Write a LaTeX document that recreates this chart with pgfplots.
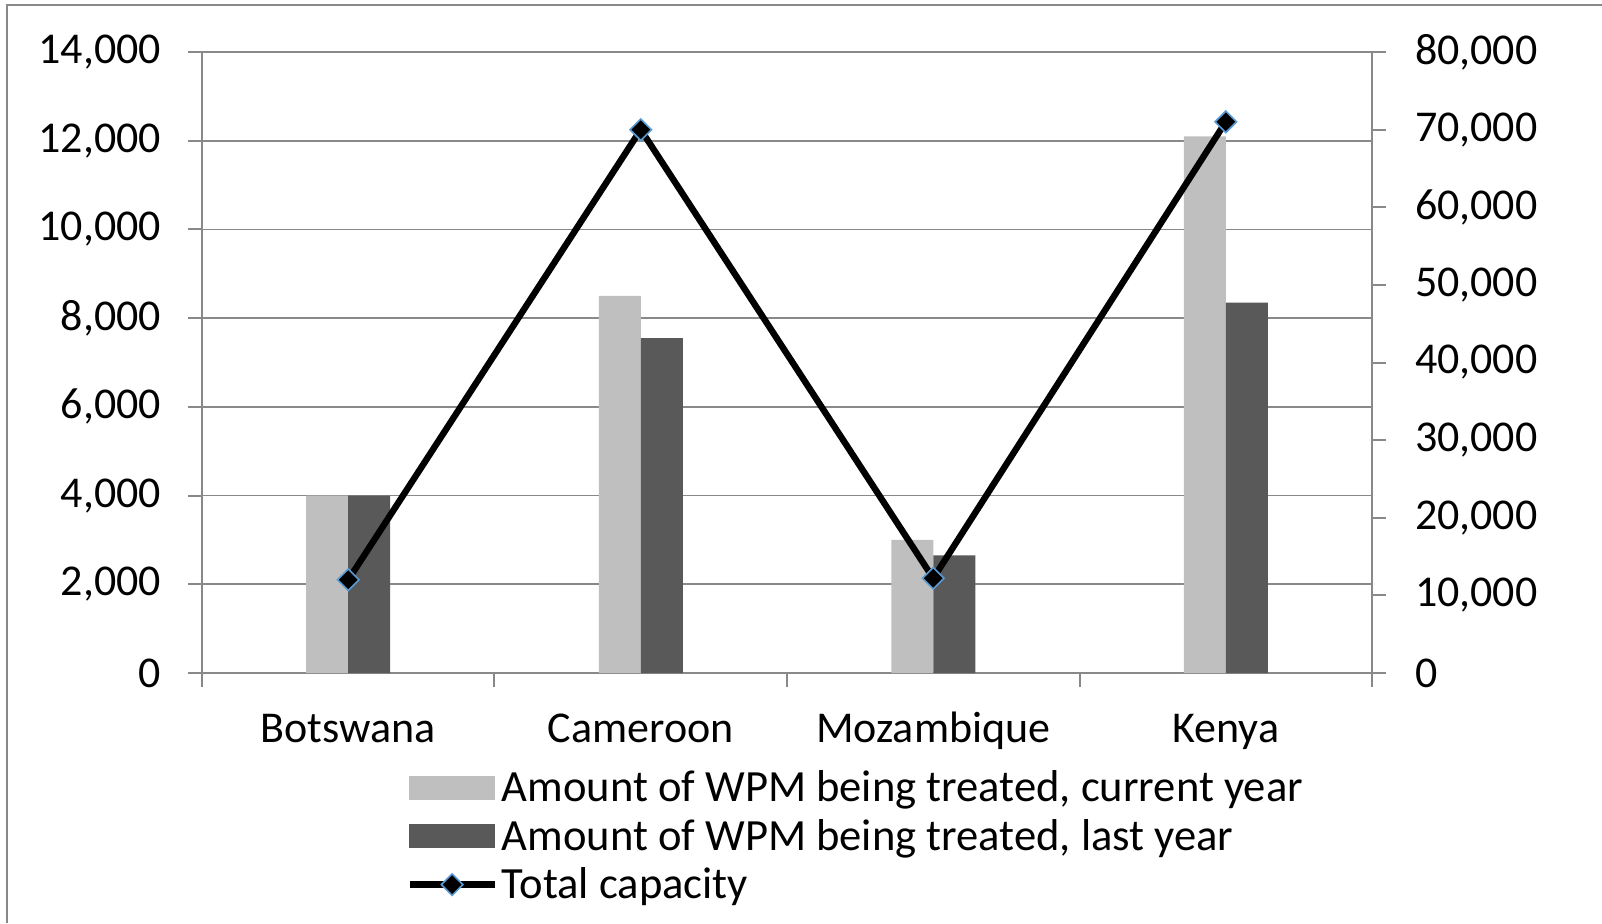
\documentclass[border=0pt]{standalone}
\usepackage{pgfplots}
\pgfplotsset{compat=1.18}
\usepackage{fontspec}
\setmainfont{Carlito}
\definecolor{lightbar}{HTML}{BFBFBF}
\definecolor{darkbar}{HTML}{595959}
\definecolor{axgray}{HTML}{898989}
\definecolor{mkblue}{HTML}{5B9BD5}
\pgfplotsset{
 common/.style={
  at={(0pt,0pt)}, anchor=south west,
  scale only axis, width=585pt, height=310.5pt,
  xmin=-0.5, xmax=3.5,
  ymin=0, clip=false,
  scaled ticks=false,
  tick align=outside,
  major tick length=7pt, minor tick length=7pt,
  every tick/.style={axgray, line width=1pt},
  axis line style={axgray, line width=1pt},
  tick label style={font=\fontsize{22}{26}\selectfont, text=black},
  /pgf/number format/fixed,
  /pgf/number format/1000 sep={,},
  /pgf/number format/assume math mode=true,
 },
 linelegend/.style={legend image code/.code={\draw[mark repeat=2,mark phase=2,##1] plot coordinates {(0pt,0pt) (21.25pt,0pt) (42.5pt,0pt)};}},
 lightlegend/.style={legend image code/.code={\fill[lightbar] (0pt,-5.75pt) rectangle (42.5pt,5.75pt);}},
 darklegend/.style={legend image code/.code={\fill[darkbar] (0pt,-5.75pt) rectangle (42.5pt,5.75pt);}},
}
\begin{document}
\begin{tikzpicture}
\begin{axis}[common, ymax=14000, ytick={0,2000,...,14000},
  axis x line*=bottom, axis y line*=left,
  xtick={0,1,2,3}, xticklabels={Botswana,Cameroon,Mozambique,Kenya},
  every major x tick/.append style={draw=none},
  minor xtick={-0.5,0.5,1.5,2.5,3.5},
  xticklabel style={anchor=base, yshift=-27.5pt},
  yticklabel style={xshift=-10pt},
  ymajorgrids, grid style={axgray, line width=0.8pt},
  ]
 \addplot[ybar, bar width=21pt, bar shift=-10.5pt, fill=lightbar, draw=none] coordinates {(0,4000) (1,8500) (2,3000) (3,12100)};
 \addplot[ybar, bar width=21pt, bar shift=10.5pt, fill=darkbar, draw=none] coordinates {(0,4000) (1,7550) (2,2650) (3,8350)};
\end{axis}
\begin{axis}[common, ymax=80000, ytick={0,10000,...,80000},
  axis y line*=right, axis x line=none,
  yticklabel style={xshift=11pt},
  legend cell align=left,
  legend style={at={(0.1744,-0.15)}, anchor=north west, draw=none, fill=none,
    font=\fontsize{22.3}{26}\selectfont, inner sep=0pt, row sep=3.3pt},
  ]
 \addlegendimage{lightlegend}
 \addlegendentry{Amount of WPM being treated, current year}
 \addlegendimage{darklegend}
 \addlegendentry{Amount of WPM being treated, last year}
 \addplot[black, line width=3.2pt, mark=square*, mark size=3.8pt,
   mark options={rotate=45, fill=black, draw=mkblue, line width=0.8pt}, linelegend]
   coordinates {(0,12000) (1,70000) (2,12200) (3,71000)};
 \addlegendentry{Total capacity}
\end{axis}
\draw[axgray, line width=1pt] (-97.5pt,-125pt) -- (-97.5pt,334pt) -- (700pt,334pt);
\pgfresetboundingbox
\path (-101pt,-125pt) rectangle (700pt,336.5pt);
\end{tikzpicture}
\end{document}
